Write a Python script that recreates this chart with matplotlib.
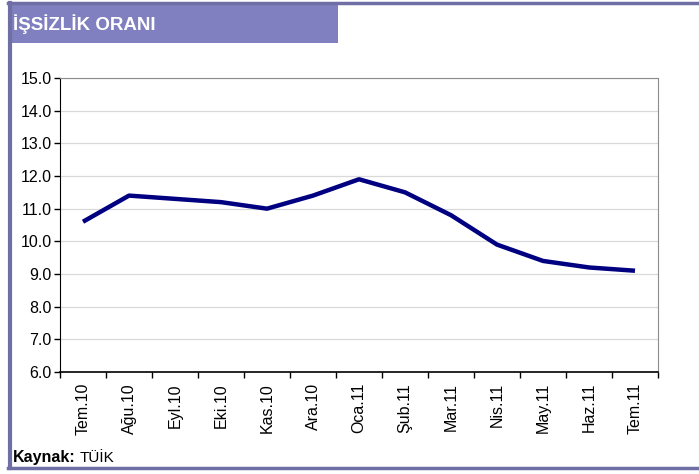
import numpy as np
import matplotlib.pyplot as plt
from matplotlib.patches import Rectangle
from matplotlib.lines import Line2D

plt.rcParams['font.family'] = ['Liberation Sans', 'DejaVu Sans']

# veriler
aylar = ['Tem.10', 'Ağu.10', 'Eyl.10', 'Eki.10', 'Kas.10', 'Ara.10', 'Oca.11',
         'Şub.11', 'Mar.11', 'Nis.11', 'May.11', 'Haz.11', 'Tem.11']
oran = [10.6, 11.4, 11.3, 11.2, 11.0, 11.4, 11.9, 11.5, 10.8, 9.9, 9.4, 9.2, 9.1]
y_ticks = [6.0, 7.0, 8.0, 9.0, 10.0, 11.0, 12.0, 13.0, 14.0, 15.0]

W, H = 699, 474
fig = plt.figure(figsize=(W / 100, H / 100), dpi=100)

# cerceve ve baslik kutusu
cerceve = '#6f6fa6'
fig.add_artist(Rectangle((8 / W, 1 - 43 / H), 330 / W, 41 / H, transform=fig.transFigure,
                         facecolor='#8080c0', edgecolor='none', zorder=0))
fig.add_artist(Line2D([9.5 / W, 9.5 / W], [1 - 3 / H, 1 - 468 / H], transform=fig.transFigure,
                      color=cerceve, lw=3))
fig.add_artist(Line2D([8 / W, 1], [1 - 3 / H, 1 - 3 / H], transform=fig.transFigure,
                      color=cerceve, lw=2.5))
fig.add_artist(Line2D([8 / W, 1], [1 - 468 / H, 1 - 468 / H], transform=fig.transFigure,
                      color=cerceve, lw=2.5))
fig.text(13 / W, 1 - 24 / H, 'İŞSİZLİK ORANI', color='white', fontsize=13.5,
         fontweight='bold', va='center', ha='left')

ax = fig.add_axes([60 / W, 1 - 372 / H, 598 / W, 294 / H])
x = np.arange(len(aylar))
ax.plot(x, oran, color='#000080', lw=3.2, solid_capstyle='butt', zorder=3)

ax.set_xlim(-0.5, len(aylar) - 0.5)
ax.set_ylim(6, 15)
ax.set_yticks(y_ticks)
ax.set_yticklabels([f'{v:.1f}' for v in y_ticks], fontsize=11.5)
ax.set_xticks(x)
ax.set_xticklabels(aylar, rotation=90, fontsize=11.5)
ax.tick_params(axis='x', which='major', length=0, pad=8)
ax.set_xticks(np.arange(-0.5, len(aylar)), minor=True)
ax.tick_params(axis='x', which='minor', length=4, width=1, color='black')
ax.tick_params(axis='y', length=4, width=1, pad=2)

ax.grid(axis='y', color='#d9d9d9', lw=0.9)
ax.set_axisbelow(True)
for s in ['top', 'right']:
    ax.spines[s].set_color('#8c8c8c')
ax.spines['left'].set_color('black')
ax.spines['bottom'].set_color('black')
ax.spines['bottom'].set_linewidth(1.2)

fig.text(13 / W, 1 - 462 / H, 'Kaynak:', fontsize=11.5, fontweight='bold', va='baseline')
fig.text(80 / W, 1 - 462 / H, 'TÜİK', fontsize=11, va='baseline')

fig.savefig('out.png', dpi=100)
